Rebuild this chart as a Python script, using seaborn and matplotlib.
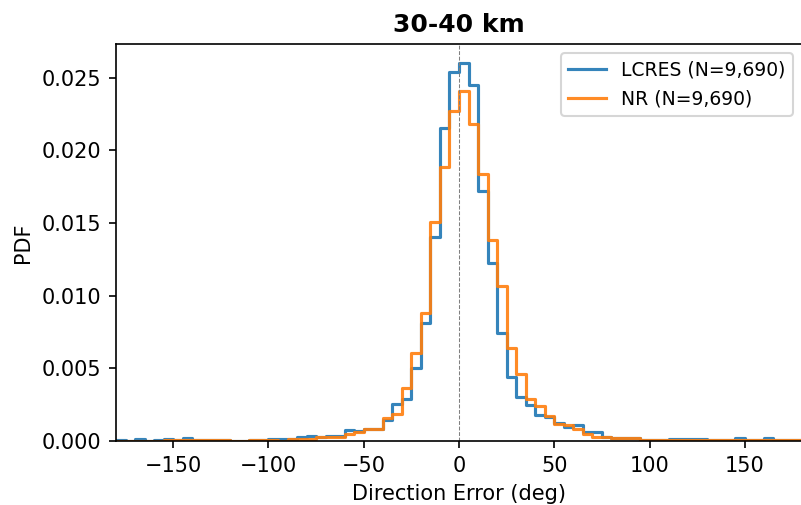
import numpy as np
import pandas as pd
import seaborn as sns
import matplotlib
matplotlib.use("Agg")
import matplotlib.pyplot as plt

# 5-degree bins from -180 to 180, values are PDF
bin_edges = np.arange(-180, 181, 5)
bin_centers = bin_edges[:-1] + 2.5

lcres_pdf = [
    0.00007, 0.0, 0.00014, 0.0, 0.00007, 0.00012, 0.00007, 0.00023, 0.00007, 0.00007,
    0.00007, 0.00005, 0.0, 0.0, 0.00008, 0.00007, 0.00012, 0.00012, 0.00014, 0.00030,
    0.00037, 0.00028, 0.00032, 0.00035, 0.00076, 0.00070, 0.00083, 0.00083, 0.00145, 0.00253,
    0.00287, 0.00500, 0.00815, 0.01407, 0.02153, 0.02539, 0.02603, 0.02454, 0.01722, 0.01224,
    0.00742, 0.00439, 0.00305, 0.00246, 0.00177, 0.00165, 0.00126, 0.00096, 0.00108, 0.00062,
    0.00062, 0.00028, 0.00021, 0.00021, 0.00021, 0.00009, 0.00009, 0.00009, 0.00016, 0.00016,
    0.00016, 0.00016, 0.00009, 0.00005, 0.00009, 0.00023, 0.00009, 0.00009, 0.00023, 0.00009,
    0.00005, 0.00005,
]
nr_pdf = [
    0.00003, 0.00002, 0.00002, 0.00002, 0.00002, 0.00005, 0.00005, 0.00007, 0.00005, 0.00005,
    0.00005, 0.00005, 0.00002, 0.00002, 0.00005, 0.00005, 0.00005, 0.00003, 0.00012, 0.00016,
    0.00012, 0.00026, 0.00030, 0.00028, 0.00046, 0.00060, 0.00083, 0.00083, 0.00160, 0.00184,
    0.00367, 0.00604, 0.00884, 0.01510, 0.01885, 0.02273, 0.02410, 0.02181, 0.01837, 0.01384,
    0.01067, 0.00638, 0.00461, 0.00289, 0.00241, 0.00170, 0.00119, 0.00108, 0.00085, 0.00046,
    0.00030, 0.00025, 0.00023, 0.00023, 0.00023, 0.00009, 0.00006, 0.00006, 0.00006, 0.00006,
    0.00006, 0.00006, 0.00006, 0.00006, 0.00006, 0.00006, 0.00006, 0.00006, 0.00006, 0.00006,
    0.00006, 0.00009,
]
labels = ["LCRES (N=9,690)", "NR (N=9,690)"]

fig = plt.figure(figsize=(801 / 150, 505 / 150), dpi=150)
ax = fig.add_axes([116 / 801, 1 - 441 / 505, 686 / 801, 397 / 505])

for vals, lab, col in zip([lcres_pdf, nr_pdf], labels, ["C0", "C1"]):
    df = pd.DataFrame({"err": bin_centers, "pdf": vals})
    sns.histplot(data=df, x="err", weights="pdf", binwidth=5, binrange=(-180, 180),
                 element="step", fill=False, color=col, linewidth=1.5, alpha=0.9,
                 label=lab, ax=ax)

ax.axvline(0, color="gray", linestyle="--", linewidth=0.5)
ax.set_xlim(-180, 180)
ax.set_title("30-40 km", fontsize=12, fontweight="bold")
ax.set_xlabel("Direction Error (deg)")
ax.set_ylabel("PDF")
ax.legend(loc="upper right", fontsize=9)

fig.savefig("out.png", dpi=150)
